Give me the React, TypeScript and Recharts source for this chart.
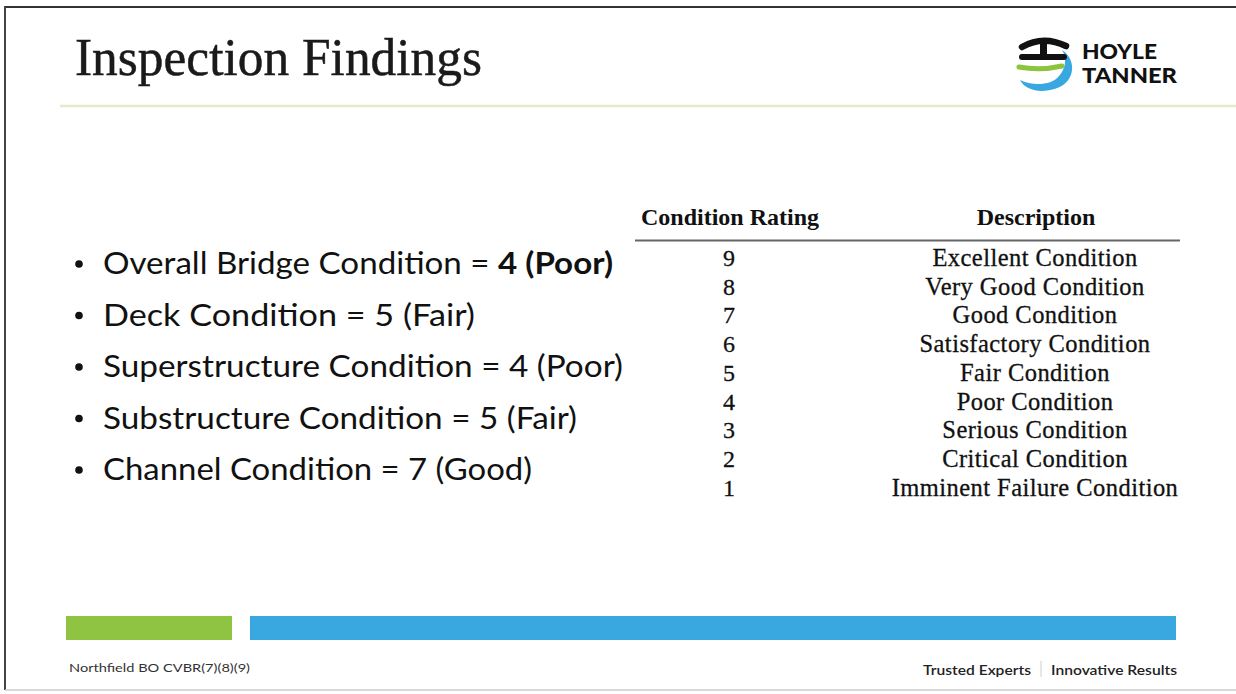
import React from 'react';
import { BarChart, Bar, XAxis, YAxis } from 'recharts';

const findings = [
  { label: 'Overall Bridge Condition = ', value: '4 (Poor)', bold: true },
  { label: 'Deck Condition = ', value: '5 (Fair)', bold: false },
  { label: 'Superstructure Condition = ', value: '4 (Poor)', bold: false },
  { label: 'Substructure Condition = ', value: '5 (Fair)', bold: false },
  { label: 'Channel Condition = ', value: '7 (Good)', bold: false },
];
const findingWidths = [510, 372, 520, 474, 429];

const ratings = [9, 8, 7, 6, 5, 4, 3, 2, 1];
const descriptions = [
  'Excellent Condition',
  'Very Good Condition',
  'Good Condition',
  'Satisfactory Condition',
  'Fair Condition',
  'Poor Condition',
  'Serious Condition',
  'Critical Condition',
  'Imminent Failure Condition',
];

// footer band segments (slide units)
const bandNames = ['band'];
const bandGreen = [166];
const bandGap = [18];
const bandBlue = [926];

const bandRows = bandNames.map((name, i) => ({
  name,
  green: bandGreen[i],
  gap: bandGap[i],
  blue: bandBlue[i],
}));

const serif = '"Liberation Serif", "DejaVu Serif", serif';
const sans = 'Lato, "Open Sans", sans-serif';

function Logo() {
  return (
    <g>
      <path d="M1020,80 C1032,86 1051,86 1059,76 C1066,68 1067,58 1062,50 C1078,60 1076,86 1050,90 C1035,93 1024,88 1020,80 Z" fill="#3aa8e0" />
      <path d="M1019,67 Q1040,71 1062,66" stroke="#8cc43f" strokeWidth={5} fill="none" strokeLinecap="round" />
      <path d="M1022,47 Q1043,35 1066,46" stroke="#111" strokeWidth={6.5} fill="none" strokeLinecap="round" />
      <rect x={1040} y={43} width={7} height={14} fill="#111" />
      <line x1={1022} y1={57} x2={1064} y2={57} stroke="#111" strokeWidth={6} strokeLinecap="round" />
      <text x={1082} y={59} fontFamily={sans} fontWeight={900} fontSize={21} fill="#111" textLength={75} lengthAdjust="spacingAndGlyphs">HOYLE</text>
      <text x={1082} y={83} fontFamily={sans} fontWeight={900} fontSize={21} fill="#111" textLength={95} lengthAdjust="spacingAndGlyphs">TANNER</text>
    </g>
  );
}

export default function App() {
  return (
    <div style={{ position: 'absolute', left: 0, top: 0, width: 1236, height: 694, background: '#fff', overflow: 'hidden' }}>
      <svg width={1236} height={694} style={{ position: 'absolute', left: 0, top: 0 }}>
        {/* scan frame */}
        <line x1={5} y1={7} x2={1236} y2={7} stroke="#333" strokeWidth={2} />
        <line x1={5} y1={6} x2={5} y2={690} stroke="#444" strokeWidth={2} />
        <line x1={5} y1={690} x2={1236} y2={690} stroke="#ccc" strokeWidth={1.5} />

        <text x={75} y={75} fontFamily={serif} fontSize={52} fill="#1a1a1a" stroke="#1a1a1a" strokeWidth={0.5} textLength={407} lengthAdjust="spacingAndGlyphs">Inspection Findings</text>
        <line x1={60} y1={106} x2={1236} y2={106} stroke="#e3ebcb" strokeWidth={2.5} />
        <Logo />

        {findings.map((f, i) => {
          const y = 274 + i * 51.5;
          return (
            <g key={f.label}>
              <circle cx={79} cy={y - 10} r={3.8} fill="#111" />
              <text x={103} y={y} fontFamily={sans} fontSize={31} fill="#111" textLength={findingWidths[i]} lengthAdjust="spacingAndGlyphs">
                {f.label}
                <tspan fontWeight={f.bold ? 700 : 400}>{f.value}</tspan>
              </text>
            </g>
          );
        })}

        <text x={730} y={225} textAnchor="middle" fontFamily={serif} fontWeight={700} fontSize={24} fill="#111">Condition Rating</text>
        <text x={1036} y={225} textAnchor="middle" fontFamily={serif} fontWeight={700} fontSize={24} fill="#111">Description</text>
        <line x1={635} y1={240.5} x2={1180} y2={240.5} stroke="#666" strokeWidth={2} />
        {ratings.map((r, i) => {
          const y = 266 + i * 28.7;
          return (
            <g key={r}>
              <text x={729} y={y} textAnchor="middle" fontFamily={serif} fontSize={24} fill="#111" stroke="#111" strokeWidth={0.3}>{r}</text>
              <text x={1035} y={y} textAnchor="middle" fontFamily={serif} fontSize={24.5} letterSpacing={0.45} fill="#111" stroke="#111" strokeWidth={0.3}>{descriptions[i]}</text>
            </g>
          );
        })}

        <text x={69} y={672} fontFamily={sans} fontSize={12} fill="#333" textLength={181} lengthAdjust="spacingAndGlyphs">Northfield BO CVBR(7)(8)(9)</text>
        <text x={923} y={675} fontFamily={sans} fontWeight={600} fontSize={14} fill="#222" textLength={108} lengthAdjust="spacingAndGlyphs">Trusted Experts</text>
        <line x1={1041} y1={661} x2={1041} y2={677} stroke="#ccc" strokeWidth={1} />
        <text x={1051} y={675} fontFamily={sans} fontWeight={600} fontSize={14} fill="#222" textLength={126} lengthAdjust="spacingAndGlyphs">Innovative Results</text>
      </svg>

      <div style={{ position: 'absolute', left: 66, top: 616 }}>
        <BarChart
          layout="vertical"
          width={1110}
          height={24}
          data={bandRows}
          margin={{ top: 0, right: 0, left: 0, bottom: 0 }}
          barCategoryGap={0}
        >
          <XAxis type="number" domain={[0, 1110]} hide />
          <YAxis type="category" dataKey="name" hide />
          <Bar dataKey="green" stackId="band" fill="#8fc443" isAnimationActive={false} />
          <Bar dataKey="gap" stackId="band" fill="rgba(0,0,0,0)" isAnimationActive={false} />
          <Bar dataKey="blue" stackId="band" fill="#3aa8e0" isAnimationActive={false} />
        </BarChart>
      </div>
    </div>
  );
}
